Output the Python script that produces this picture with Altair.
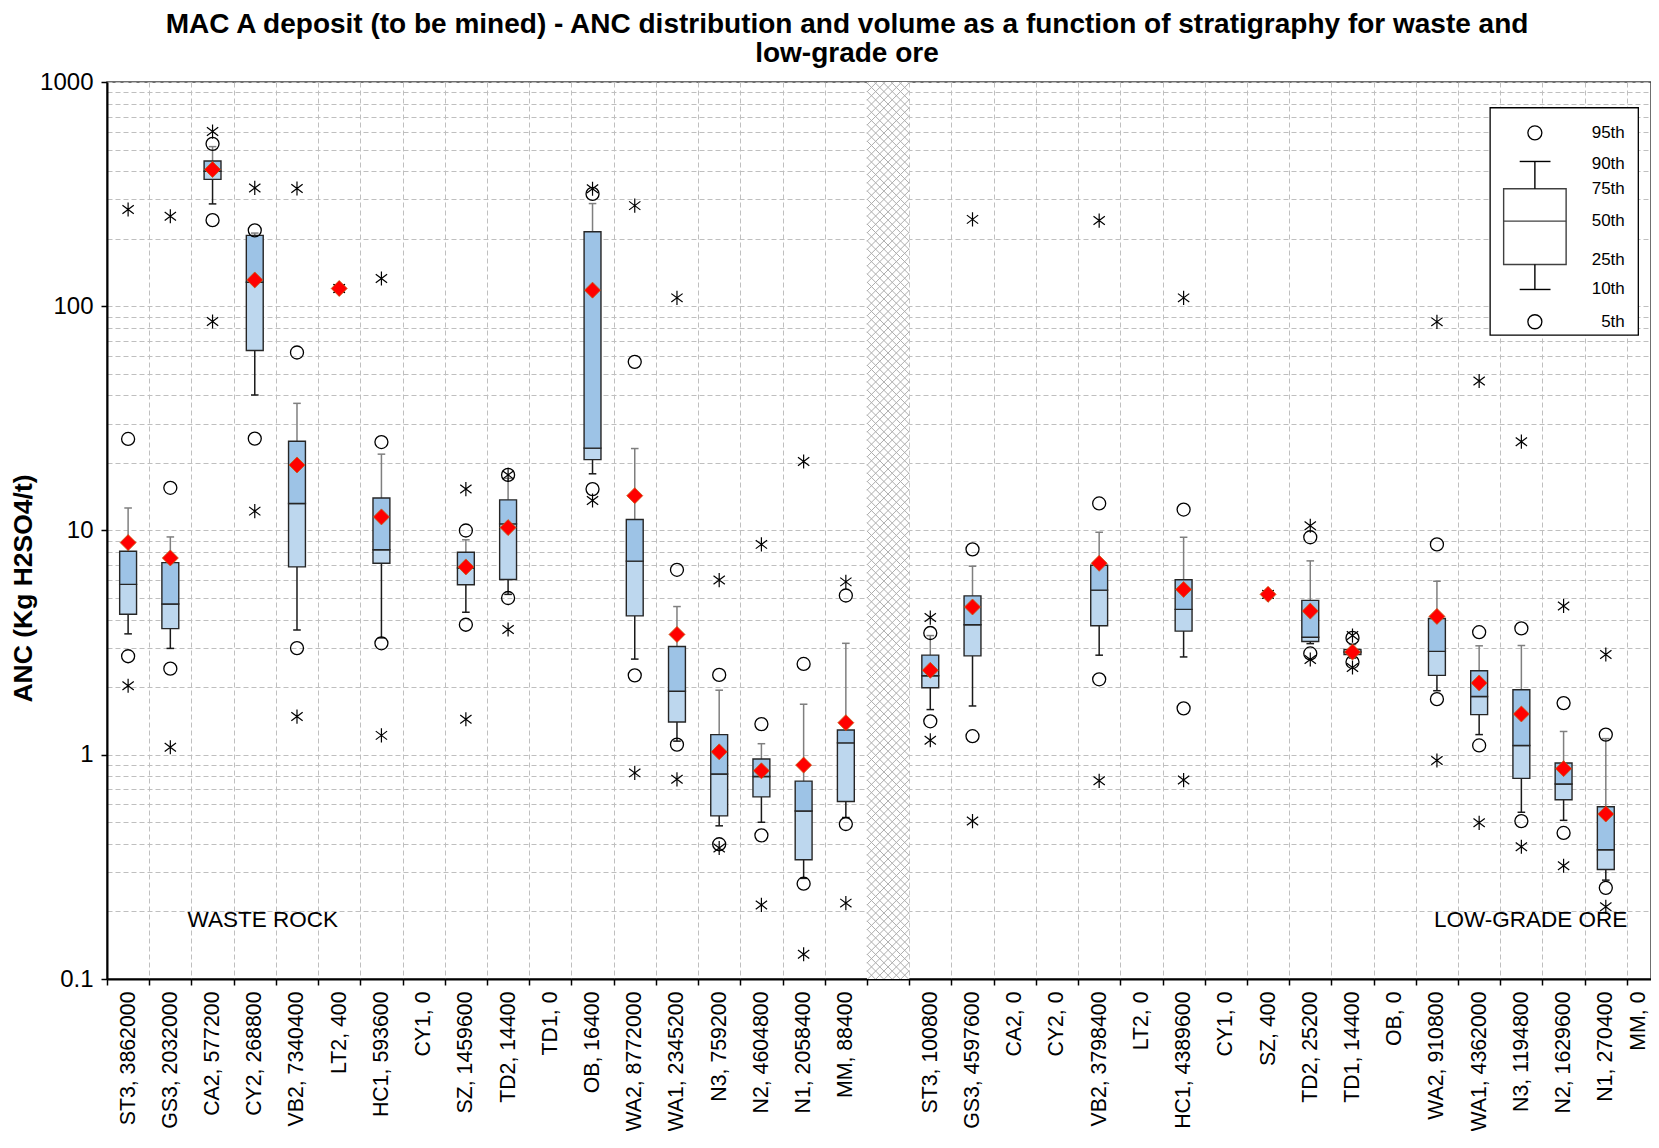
import json
import altair as alt
import pandas as pd

# ---------------- data ----------------
labels = ["ST3, 3862000", "GS3, 2032000", "CA2, 577200", "CY2, 268800", "VB2, 7340400", "LT2, 400",
          "HC1, 593600", "CY1, 0", "SZ, 1459600", "TD2, 14400", "TD1, 0", "OB, 16400", "WA2, 8772000",
          "WA1, 2345200", "N3, 759200", "N2, 4604800", "N1, 2058400", "MM, 88400", "",
          "ST3, 100800", "GS3, 4597600", "CA2, 0", "CY2, 0", "VB2, 3798400", "LT2, 0", "HC1, 4389600",
          "CY1, 0", "SZ, 400", "TD2, 25200", "TD1, 14400", "OB, 0", "WA2, 910800", "WA1, 4362000",
          "N3, 1194800", "N2, 1629600", "N1, 270400", "MM, 0"]
N = None
p_min = [2.03, 1.08, 85.5, 12.2, 1.48, 120, 1.22, N, 1.44, 3.62, N, 13.6, 0.830, 0.777, 0.384, 0.214, 0.129, 0.218, N,
         1.16, 0.506, N, N, 0.765, N, 0.771, N, 5.19, 2.66, 2.45, N, 0.943, 0.497, 0.389, 0.320, 0.210, N]
p5 = [2.75, 2.42, 242, 25.7, 2.99, N, 3.14, N, 3.80, 5.0, N, 15.3, 2.26, 1.11, 0.399, 0.437, 0.266, 0.491, N,
      1.41, 1.21, N, N, 2.17, N, 1.61, N, N, 2.83, 2.59, N, 1.77, 1.10, 0.506, 0.448, 0.255, N]
p10 = [3.46, 2.98, 286, 40.2, 3.60, N, 3.32, N, 4.32, 5.19, N, 17.9, 2.67, 1.15, 0.482, 0.500, 0.281, 0.525, N,
       1.59, 1.65, N, N, 2.78, N, 2.73, N, N, 3.13, 2.70, N, 1.93, 1.23, 0.554, 0.510, 0.276, N]
q25 = [4.23, 3.65, 368, 63.5, 6.88, N, 7.14, N, 5.73, 6.05, N, 20.7, 4.16, 1.40, 0.534, 0.649, 0.340, 0.619, N,
       1.99, 2.76, N, N, 3.76, N, 3.56, N, N, 3.20, 2.80, N, 2.26, 1.51, 0.785, 0.630, 0.308, N]
med = [5.75, 4.70, 400, 128, 13.2, N, 8.21, N, 6.8, 10.7, N, 23.3, 7.30, 1.92, 0.821, 0.800, 0.561, 1.13, N,
       2.25, 3.80, N, N, 5.42, N, 4.45, N, N, 3.34, 2.87, N, 2.89, 1.82, 1.10, 0.741, 0.377, N]
q75 = [8.08, 7.19, 444, 207, 25.0, N, 13.96, N, 8.0, 13.7, N, 215, 11.2, 3.04, 1.23, 0.957, 0.763, 1.29, N,
       2.78, 5.11, N, N, 7.0, N, 6.03, N, N, 4.88, 2.95, N, 4.05, 2.37, 1.95, 0.919, 0.586, N]
p90 = [12.6, 9.36, 515, 212, 36.9, N, 21.9, N, 9.09, 17.1, N, 287, 23.2, 4.58, 1.94, 1.12, 1.68, 3.14, N,
       3.40, 6.93, N, N, 9.82, N, 9.33, N, N, 7.32, 3.10, N, 5.94, 3.06, 3.07, 1.27, 1.18, N]
p95 = [25.6, 15.5, 530, 218, 62.2, N, 24.8, N, 10.0, 17.7, N, 317, 56.5, 6.68, 2.27, 1.37, 2.54, 5.13, N,
       3.49, 8.24, N, N, 13.2, N, 12.4, N, N, 9.33, 3.32, N, 8.67, 3.52, 3.66, 1.70, 1.23, N]
p_max = [270, 252, 601, 337, 335, 120, 133, N, 15.3, 17.7, N, 334, 281, 109, 6.01, 8.67, 20.3, 5.90, N,
         4.09, 244, N, N, 241, N, 109, N, 5.19, 10.5, 3.40, N, 85.2, 46.4, 24.9, 4.61, 2.80, N]
mean = [8.83, 7.54, 407, 131, 19.6, 120, 11.5, N, 6.88, 10.3, N, 118, 14.3, 3.44, 1.03, 0.848, 0.899, 1.39, N,
        2.38, 4.56, N, N, 7.14, N, 5.46, N, 5.19, 4.37, 2.87, N, 4.14, 2.09, 1.52, 0.867, 0.544, N]

GAP_SLOT = 18
annot_text = ["WASTE ROCK", "LOW-GRADE ORE"]
annot_x = [3.69, 33.72]
annot_y = [0.1836, 0.1836]

# legend (placed in data coordinates)
leg_frame_x = [32.76, 36.27]
leg_frame_y = [74.3, 767.5]
leg_box_x = [33.08, 34.56]
leg_center_x = 33.82
leg_cap_x = [33.46, 34.19]
leg_vals = {"p5": 85.3, "p10": 118.8, "q25": 153.6, "med": 239.6, "q75": 334.0, "p90": 442.2, "p95": 593.6}
leg_text = ["95th", "90th", "75th", "50th", "25th", "10th", "5th"]
leg_text_y = [593.6, 428.8, 331.7, 238.9, 160.5, 118.8, 85.3]
leg_text_x = 35.95

# ---------------- styling ----------------
FONT = "Liberation Sans"
PLOT_W = 1544
PLOT_H = 897
SLOT_PX = 42.22
X_DOM = [0, PLOT_W / SLOT_PX]
Y_DOM = [0.1, 1000]
BOX_HALF = 0.2
CAP_HALF = 0.09
LAST_LABEL_POS = 36.28      # last (partly visible) slot: label pulled inside the visible edge
xs = alt.Scale(domain=X_DOM, nice=False, zero=False)
ys = alt.Scale(type="log", domain=Y_DOM, nice=False)
GRID = "#BFBFBF"

df = pd.DataFrame({"slot": list(range(len(labels))), "label": labels, "pmin": p_min, "p5": p5, "p10": p10,
                   "q25": q25, "med": med, "q75": q75, "p90": p90, "p95": p95, "pmax": p_max, "mean": mean})
df["pos"] = df["slot"] + 0.5

minor_vals = [m * 10.0 ** e for e in range(-1, 3) for m in range(1, 10)] + [1000.0]
label_pos = [i + 0.5 for i in range(len(labels) - 1)] + [LAST_LABEL_POS]

grid_x_axis = alt.Axis(values=list(range(len(labels))), grid=True, gridDash=[5, 3], gridColor=GRID,
                       gridWidth=1, labels=False, ticks=True, tickSize=6, tickColor="black", tickWidth=1.5,
                       domain=True, domainColor="black", domainWidth=2, title=None, orient="bottom")
label_x_axis = alt.Axis(values=label_pos,
                        labelExpr=json.dumps(labels) + "[floor(datum.value)]",
                        labelAngle=270, labelFontSize=21.3, labelFont=FONT, labelColor="black",
                        labelPadding=12, labelOverlap=False, labelFlush=False, ticks=False, grid=False,
                        domain=False, title=None, orient="bottom")
grid_y_axis = alt.Axis(values=minor_vals, grid=True, gridDash=[5, 3], gridColor=GRID, gridWidth=1,
                       labels=False, ticks=False, domain=True, domainColor="black", domainWidth=2,
                       title=None, orient="left")
label_y_axis = alt.Axis(values=[0.1, 1, 10, 100, 1000], format="~g", labelFontSize=24, labelFont=FONT,
                        labelColor="black", labelPadding=8, ticks=True, tickSize=6, tickColor="black",
                        tickWidth=1.5, grid=False, domain=False, title="ANC (Kg H2SO4/t)",
                        titleFont=FONT, titleFontSize=26.5, titleFontWeight="bold", titleColor="black",
                        titlePadding=2, titleY=506, orient="left")

base = alt.Chart(df)

# gap (hatched) column
gap_df = pd.DataFrame({"x0": [GAP_SLOT], "x1": [GAP_SLOT + 1], "y0": [Y_DOM[0]], "y1": [Y_DOM[1]]})
gap_bg = alt.Chart(gap_df).mark_rect(fill="white").encode(
    x=alt.X("x0:Q", scale=xs, axis=grid_x_axis), x2="x1:Q",
    y=alt.Y("y0:Q", scale=ys, axis=grid_y_axis), y2="y1:Q")

rise = SLOT_PX / (PLOT_H / 4.0)     # 45 degree diagonal over one slot, in decades
step = 0.037
rows = []
k = 0
while True:
    L = -1 - rise + k * step
    if L > 3:
        break
    rows.append({"x0": GAP_SLOT, "x1": GAP_SLOT + 1, "ya": 10 ** L, "yb": 10 ** (L + rise)})
    rows.append({"x0": GAP_SLOT, "x1": GAP_SLOT + 1, "ya": 10 ** (L + rise), "yb": 10 ** L})
    k += 1
hatch_df = pd.DataFrame(rows)
hatch = alt.Chart(hatch_df).mark_rule(color="#ADADAD", strokeWidth=1, clip=True).encode(
    x=alt.X("x0:Q", scale=xs, axis=None), x2="x1:Q",
    y=alt.Y("ya:Q", scale=ys, axis=None), y2="yb:Q")

# legend frame
lf_df = pd.DataFrame({"x0": [leg_frame_x[0]], "x1": [leg_frame_x[1]], "y0": [leg_frame_y[0]], "y1": [leg_frame_y[1]]})
leg_frame = alt.Chart(lf_df).mark_rect(fill="white", stroke="black", strokeWidth=1.3).encode(
    x=alt.X("x0:Q", scale=xs, axis=None), x2="x1:Q",
    y=alt.Y("y0:Q", scale=ys, axis=None), y2="y1:Q")

valid = "isValid(datum.q25)"
whisk_lo = base.transform_filter(valid).mark_rule(color="#1A1A1A", strokeWidth=1.5).encode(
    x=alt.X("pos:Q", scale=xs, axis=label_x_axis),
    y=alt.Y("p10:Q", scale=ys, axis=label_y_axis), y2="q25:Q")
whisk_hi = base.transform_filter(valid).mark_rule(color="#7F7F7F", strokeWidth=1.5).encode(
    x=alt.X("pos:Q", scale=xs, axis=None),
    y=alt.Y("q75:Q", scale=ys, axis=None), y2="p90:Q")
caps = base.transform_filter(valid).transform_calculate(
    cl=f"datum.pos - {CAP_HALF}", cr=f"datum.pos + {CAP_HALF}")
cap_lo = caps.mark_rule(color="#1A1A1A", strokeWidth=1.5).encode(
    x=alt.X("cl:Q", scale=xs, axis=None), x2="cr:Q", y=alt.Y("p10:Q", scale=ys, axis=None))
cap_hi = caps.mark_rule(color="#7F7F7F", strokeWidth=1.5).encode(
    x=alt.X("cl:Q", scale=xs, axis=None), x2="cr:Q", y=alt.Y("p90:Q", scale=ys, axis=None))

boxes = base.transform_filter(valid).transform_calculate(
    bl=f"datum.pos - {BOX_HALF}", br=f"datum.pos + {BOX_HALF}")
box_lo = boxes.mark_rect(fill="#BDD7EE", stroke="#262626", strokeWidth=1.4).encode(
    x=alt.X("bl:Q", scale=xs, axis=None), x2="br:Q",
    y=alt.Y("q25:Q", scale=ys, axis=None), y2="med:Q")
box_hi = boxes.mark_rect(fill="#9DC3E6", stroke="#262626", strokeWidth=1.4).encode(
    x=alt.X("bl:Q", scale=xs, axis=None), x2="br:Q",
    y=alt.Y("med:Q", scale=ys, axis=None), y2="q75:Q")

circles = base.transform_fold(["p5", "p95"], as_=["k", "v"]).transform_filter("isValid(datum.v)").mark_point(
    shape="circle", filled=False, color="black", strokeWidth=1.3, size=169, opacity=1).encode(
    x=alt.X("pos:Q", scale=xs, axis=None), y=alt.Y("v:Q", scale=ys, axis=None))

STAR = "M0,-1L0,1M-0.8,-0.6L0.8,0.6M-0.8,0.6L0.8,-0.6"
stars = base.transform_fold(["pmin", "pmax"], as_=["k", "v"]).transform_filter("isValid(datum.v)").mark_point(
    shape=STAR, filled=False, color="black", strokeWidth=1.2, size=200, opacity=1).encode(
    x=alt.X("pos:Q", scale=xs, axis=None), y=alt.Y("v:Q", scale=ys, axis=None))

diamonds = base.transform_filter("isValid(datum.mean)").mark_point(
    shape="diamond", filled=True, color="#FF0000", stroke="#C55A11", strokeWidth=0.8, size=256, opacity=1).encode(
    x=alt.X("pos:Q", scale=xs, axis=None), y=alt.Y("mean:Q", scale=ys, axis=None))

# legend contents
lg = pd.DataFrame([{**leg_vals, "bx0": leg_box_x[0], "bx1": leg_box_x[1], "cx": leg_center_x,
                    "kx0": leg_cap_x[0], "kx1": leg_cap_x[1]}])
lgc = alt.Chart(lg)
leg_box = lgc.mark_rect(fill="white", stroke="#404040", strokeWidth=1.4).encode(
    x=alt.X("bx0:Q", scale=xs, axis=None), x2="bx1:Q", y=alt.Y("q25:Q", scale=ys, axis=None), y2="q75:Q")
leg_med = lgc.mark_rule(color="#404040", strokeWidth=1.4).encode(
    x=alt.X("bx0:Q", scale=xs, axis=None), x2="bx1:Q", y=alt.Y("med:Q", scale=ys, axis=None))
leg_wl = lgc.mark_rule(color="black", strokeWidth=1.4).encode(
    x=alt.X("cx:Q", scale=xs, axis=None), y=alt.Y("p10:Q", scale=ys, axis=None), y2="q25:Q")
leg_wh = lgc.mark_rule(color="black", strokeWidth=1.4).encode(
    x=alt.X("cx:Q", scale=xs, axis=None), y=alt.Y("q75:Q", scale=ys, axis=None), y2="p90:Q")
leg_cl = lgc.mark_rule(color="black", strokeWidth=1.4).encode(
    x=alt.X("kx0:Q", scale=xs, axis=None), x2="kx1:Q", y=alt.Y("p10:Q", scale=ys, axis=None))
leg_ch = lgc.mark_rule(color="black", strokeWidth=1.4).encode(
    x=alt.X("kx0:Q", scale=xs, axis=None), x2="kx1:Q", y=alt.Y("p90:Q", scale=ys, axis=None))
leg_circ = lgc.transform_fold(["p5", "p95"], as_=["k", "v"]).mark_point(
    shape="circle", filled=False, color="black", strokeWidth=1.3, size=196, opacity=1).encode(
    x=alt.X("cx:Q", scale=xs, axis=None), y=alt.Y("v:Q", scale=ys, axis=None))
lt_df = pd.DataFrame({"t": leg_text, "y": leg_text_y, "x": [leg_text_x] * len(leg_text)})
leg_txt = alt.Chart(lt_df).mark_text(align="right", baseline="middle", fontSize=17, font=FONT, color="black").encode(
    x=alt.X("x:Q", scale=xs, axis=None), y=alt.Y("y:Q", scale=ys, axis=None), text="t:N")

ann_df = pd.DataFrame({"t": annot_text, "x": annot_x, "y": annot_y})
ann = alt.Chart(ann_df).mark_text(align="center", baseline="middle", fontSize=22.5, font=FONT, color="black").encode(
    x=alt.X("x:Q", scale=xs, axis=None), y=alt.Y("y:Q", scale=ys, axis=None), text="t:N")

title = alt.TitleParams(
    text=["MAC A deposit (to be mined) - ANC distribution and volume as a function of stratigraphy for waste and",
          "low-grade ore"],
    font=FONT, fontSize=28, fontWeight="bold", color="black", anchor="middle", frame="group",
    dx=-32, offset=2, lineHeight=29.5)

chart = alt.layer(
    gap_bg, hatch, leg_frame, whisk_lo, whisk_hi, cap_lo, cap_hi, box_lo, box_hi,
    circles, stars, diamonds, leg_box, leg_med, leg_wl, leg_wh, leg_cl, leg_ch, leg_circ, leg_txt, ann
).resolve_axis(x="independent", y="independent").properties(
    width=PLOT_W, height=PLOT_H, title=title,
    autosize=alt.AutoSizeParams(type="none"),
    padding={"left": 99, "top": 74, "right": 0, "bottom": 152},
    background="white"
).configure(font=FONT).configure_view(stroke="#404040", strokeWidth=1.5)

chart.save("out.html", embed_options={"renderer": "svg", "actions": False})
